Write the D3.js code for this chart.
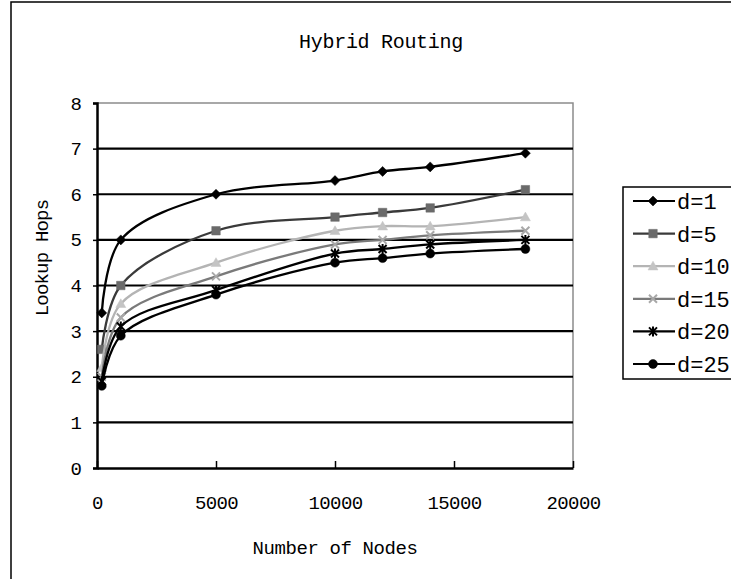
<!DOCTYPE html>
<html>
<head>
<meta charset="utf-8">
<script src="https://cdn.jsdelivr.net/npm/d3@7"></script>
<style>
  html, body { margin: 0; padding: 0; background: #fff; }
  svg { display: block; }
  text { font-family: "Liberation Mono", "DejaVu Sans Mono", monospace; fill: #000; }
</style>
</head>
<body>
<svg id="chart" width="731" height="579"></svg>
<script>
// Network size on the x axis (number of nodes)
const nodeCounts = [200, 1000, 5000, 10000, 12000, 14000, 18000];

// Average lookup hops for each neighbour-set size d
const hopsD1  = [3.4, 5.0, 6.0, 6.3, 6.5, 6.6, 6.9];
const hopsD5  = [2.6, 4.0, 5.2, 5.5, 5.6, 5.7, 6.1];
const hopsD10 = [2.2, 3.6, 4.5, 5.2, 5.3, 5.3, 5.5];
const hopsD15 = [2.0, 3.3, 4.2, 4.9, 5.0, 5.1, 5.2];
const hopsD20 = [1.9, 3.1, 3.9, 4.7, 4.8, 4.9, 5.0];
const hopsD25 = [1.8, 2.9, 3.8, 4.5, 4.6, 4.7, 4.8];

const seriesNames = ["d=1", "d=5", "d=10", "d=15", "d=20", "d=25"];
const xTicks = [0, 5000, 10000, 15000, 20000];
const yTicks = [0, 1, 2, 3, 4, 5, 6, 7, 8];

const series = [
  { name: seriesNames[0], values: hopsD1,  line: "#000",    fill: "#000",    marker: "diamond"  },
  { name: seriesNames[1], values: hopsD5,  line: "#3a3a3a", fill: "#6a6a6a", marker: "square"   },
  { name: seriesNames[2], values: hopsD10, line: "#b4b4b4", fill: "#c4c4c4", marker: "triangle" },
  { name: seriesNames[3], values: hopsD15, line: "#7a7a7a", fill: "#a8a8a8", marker: "cross"    },
  { name: seriesNames[4], values: hopsD20, line: "#000",    fill: "#000",    marker: "star"     },
  { name: seriesNames[5], values: hopsD25, line: "#000",    fill: "#000",    marker: "circle"   }
];

const svg = d3.select("#chart");
const plot = { left: 97, right: 573, top: 103, bottom: 468 };

const x = d3.scaleLinear().domain([0, 20000]).range([plot.left, plot.right]);
const y = d3.scaleLinear().domain([0, 8]).range([plot.bottom, plot.top]);

// Outer chart frame
svg.append("rect")
  .attr("x", 11).attr("y", 2).attr("width", 760).attr("height", 600)
  .attr("fill", "none").attr("stroke", "#000").attr("stroke-width", 1.5);

// Title
svg.append("text")
  .attr("x", 381).attr("y", 48)
  .attr("text-anchor", "middle")
  .style("font-size", "20px")
  .style("letter-spacing", "-0.3px")
  .text("Hybrid Routing");

// Plot-area border (top and right) in grey
svg.append("path")
  .attr("d", `M${plot.left},${plot.top}H${plot.right}V${plot.bottom}`)
  .attr("fill", "none").attr("stroke", "#8c8c8c").attr("stroke-width", 1.5);

// Horizontal gridlines
svg.append("g")
  .selectAll("line")
  .data(yTicks.filter(v => v > 0 && v < 8))
  .join("line")
  .attr("x1", plot.left).attr("x2", plot.right)
  .attr("y1", d => y(d)).attr("y2", d => y(d))
  .attr("stroke", "#000").attr("stroke-width", 2.2);

// Y axis
const yAxis = svg.append("g")
  .attr("transform", `translate(${plot.left},0)`)
  .call(d3.axisLeft(y).tickValues(yTicks).tickFormat(d3.format("d")).tickSize(4).tickPadding(11));
yAxis.select(".domain").attr("stroke-width", 2.5);
yAxis.selectAll(".tick line").attr("stroke-width", 1.5);
yAxis.selectAll("text").style("font-size", "19px");

// X axis (ticks pointing into the plot)
const xAxis = svg.append("g")
  .attr("transform", `translate(0,${plot.bottom})`)
  .call(d3.axisBottom(x).tickValues(xTicks).tickFormat(d3.format("d")).tickSizeInner(-7).tickSizeOuter(0).tickPadding(28));
xAxis.select(".domain").attr("stroke-width", 2.5);
xAxis.selectAll(".tick line").attr("stroke-width", 1.5);
xAxis.selectAll("text").style("font-size", "19px").style("letter-spacing", "-0.6px");

// Axis titles
svg.append("text")
  .attr("x", (plot.left + plot.right) / 2).attr("y", 554)
  .attr("text-anchor", "middle")
  .style("font-size", "19px")
  .style("letter-spacing", "-0.4px")
  .text("Number of Nodes");

svg.append("text")
  .attr("transform", "translate(48,258) rotate(-90)")
  .attr("text-anchor", "middle")
  .style("font-size", "19px")
  .style("letter-spacing", "-0.8px")
  .text("Lookup Hops");

// Marker shapes
function markerPath(type, s) {
  switch (type) {
    case "diamond": return `M0,${-s}L${s},0L0,${s}L${-s},0Z`;
    case "square": { const h = s * 0.85; return `M${-h},${-h}H${h}V${h}H${-h}Z`; }
    case "triangle": return `M0,${-s}L${s},${s * 0.75}L${-s},${s * 0.75}Z`;
    case "cross": { const h = s * 0.8; return `M${-h},${-h}L${h},${h}M${h},${-h}L${-h},${h}`; }
    case "star": { const h = s * 0.8; return `M${-h},${-h}L${h},${h}M${h},${-h}L${-h},${h}M0,${-s}V${s}`; }
    case "circle": return d3.symbol(d3.symbolCircle, Math.PI * s * s * 0.8)();
  }
}
const strokeMarkers = new Set(["cross", "star"]);

function drawMarker(sel, s, type) {
  sel.attr("d", markerPath(type, s.size))
    .attr("fill", strokeMarkers.has(type) ? "none" : s.fill)
    .attr("stroke", s.fill)
    .attr("stroke-width", strokeMarkers.has(type) ? 2 : 0.5);
}

const line = d3.line()
  .x(d => x(d[0]))
  .y(d => y(d[1]))
  .curve(d3.curveCatmullRom.alpha(0.5));

const seriesG = svg.append("g");
series.forEach(s => {
  s.size = 5;
  const pts = nodeCounts.map((n, i) => [n, s.values[i]]);
  const g = seriesG.append("g");
  g.append("path")
    .attr("d", line(pts))
    .attr("fill", "none")
    .attr("stroke", s.line)
    .attr("stroke-width", 2.3);
  g.selectAll("path.mk")
    .data(pts)
    .join("path")
    .attr("class", "mk")
    .attr("transform", d => `translate(${x(d[0])},${y(d[1])})`)
    .each(function () { drawMarker(d3.select(this), s, s.marker); });
});

// Legend (box runs past the right edge of the page)
const legend = svg.append("g");
legend.append("rect")
  .attr("x", 623).attr("y", 187).attr("width", 200).attr("height", 192)
  .attr("fill", "#fff").attr("stroke", "#000").attr("stroke-width", 1.5);

const rowY = i => 201 + i * 32.6;
series.forEach((s, i) => {
  const row = legend.append("g").attr("transform", `translate(0,${rowY(i)})`);
  row.append("line")
    .attr("x1", 633).attr("x2", 675).attr("y1", 0).attr("y2", 0)
    .attr("stroke", s.line).attr("stroke-width", 2.2);
  row.append("path")
    .attr("transform", "translate(653,0)")
    .call(sel => drawMarker(sel, s, s.marker));
  row.append("text")
    .attr("x", 677).attr("y", 0).attr("dy", "0.36em")
    .style("font-size", "22px")
    .text(s.name);
});
</script>
</body>
</html>
